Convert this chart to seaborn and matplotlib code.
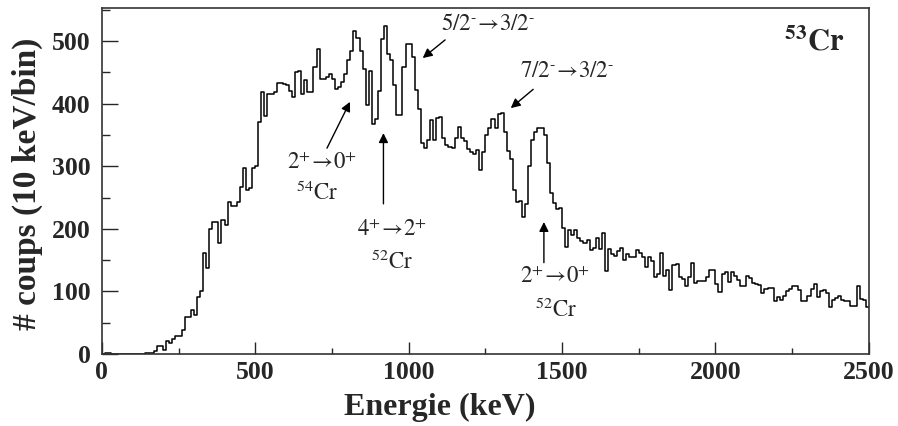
import numpy as np
import pandas as pd
import matplotlib
matplotlib.use("Agg")
import matplotlib.pyplot as plt
import seaborn as sns

# ---- data: counts per 10 keV bin ----
counts_0_490 = [0, 2, 2, 0, 0, 0, 0, 0, 0, 0, 0, 0, 0, 0,
                1, 2, 2, 5, 13, 13, 7, 20, 17, 24, 28, 28, 39, 59, 59, 71,
                62, 91, 101, 161, 137, 200, 211, 211, 177, 214, 206, 243, 236, 236,
                243, 267, 297, 262, 266, 298]
counts_500_990 = [300, 371, 419, 380, 415, 415, 419, 433, 433, 431,
                  430, 421, 411, 450, 452, 415, 438, 418, 419, 459,
                  487, 440, 440, 443, 448, 440, 424, 427, 435, 448,
                  470, 485, 516, 505, 485, 455, 398, 452, 368, 376,
                  421, 503, 525, 480, 470, 430, 382, 382, 459, 496]
counts_1000_1490 = [496, 475, 422, 392, 337, 330, 342, 374, 342, 377,
                    379, 345, 334, 331, 329, 345, 363, 345, 340, 328,
                    323, 320, 326, 294, 323, 350, 361, 376, 362, 384,
                    385, 355, 325, 311, 262, 243, 245, 219, 240, 300,
                    342, 355, 361, 361, 350, 306, 258, 241, 231, 233]
counts_1500_1990 = [201, 171, 198, 190, 198, 186, 180, 177, 182, 167,
                    170, 186, 168, 193, 133, 168, 160, 157, 165, 170,
                    151, 160, 155, 155, 167, 162, 155, 139, 155, 149,
                    123, 128, 162, 124, 134, 102, 142, 144, 123, 120,
                    109, 123, 145, 113, 116, 116, 116, 123, 135, 135]
counts_2000_2490 = [112, 99, 128, 131, 115, 131, 125, 118, 109, 109,
                    125, 122, 113, 112, 110, 97, 104, 105, 105, 84,
                    91, 86, 92, 100, 104, 109, 109, 103, 84, 84,
                    92, 104, 112, 91, 100, 102, 98, 75, 86, 90,
                    92, 86, 84, 84, 76, 77, 108, 88, 86, 75]

counts = counts_0_490 + counts_500_990 + counts_1000_1490 + counts_1500_1990 + counts_2000_2490
bin_width = 10
bin_edges = [float(e) for e in np.arange(0, 2500 + bin_width, bin_width)]
bin_centers = [e + bin_width / 2 for e in bin_edges[:-1]]
df = pd.DataFrame({"energy": bin_centers, "counts": counts})

x_ticks = [0, 500, 1000, 1500, 2000, 2500]
y_ticks = [0, 100, 200, 300, 400, 500]

# ---- figure ----
sns.set_style("ticks")
plt.rcParams["font.family"] = ["Liberation Serif", "DejaVu Serif"]
plt.rcParams["mathtext.fontset"] = "stix"

fig = plt.figure(figsize=(8.98, 4.26), dpi=100)
ax = fig.add_axes([101.8 / 898, 1 - 354 / 426, 767 / 898, 346 / 426])

sns.histplot(data=df, x="energy", weights="counts", bins=bin_edges,
             element="step", fill=False, color="black", linewidth=1.1, ax=ax)

ax.set_xlim(0, 2500)
ax.set_ylim(0, 553)
ax.set_xticks(x_ticks)
ax.set_yticks(y_ticks)
ax.set_xticks(np.arange(250, 2500, 500), minor=True)
ax.set_yticks(np.arange(50, 553, 100), minor=True)
ax.set_xticklabels([str(t) for t in x_ticks], fontsize=18.5, fontweight="bold")
ax.set_yticklabels([str(t) for t in y_ticks], fontsize=18.5, fontweight="bold")
ax.tick_params(axis="x", which="major", direction="in", length=8.5, width=1, pad=5, top=False)
ax.tick_params(axis="x", which="minor", direction="in", length=4.3, width=1, top=False)
ax.tick_params(axis="y", which="major", direction="in", length=11.5, width=1, pad=8, right=False)
ax.tick_params(axis="y", which="minor", direction="in", length=5.8, width=1, right=False)
for s in ax.spines.values():
    s.set_visible(True)
    s.set_linewidth(1.2)
    s.set_color("#333333")

ax.set_xlabel("Energie (keV)", fontsize=23, fontweight="bold", va="center")
ax.xaxis.set_label_coords((440 - 101.8) / 767, (354 - 407) / 346)
ax.set_ylabel("# coups (10 keV/bin)", fontsize=24, fontweight="bold", va="center")
ax.yaxis.set_label_coords((27 - 101.8) / 767, (354 - 184) / 346)

fs = 16.5
arrow = dict(arrowstyle="-|>", color="black", lw=1.0, mutation_scale=14, shrinkA=0, shrinkB=0)

# 54Cr 2+ -> 0+
ax.text(717, 305, r"$2^{+}\!\rightarrow\!0^{+}$", fontsize=fs, ha="center", va="center")
ax.text(701, 257, r"$^{54}\mathrm{Cr}$", fontsize=fs, ha="center", va="center")
ax.annotate("", xy=(809, 403), xytext=(734, 329), arrowprops=arrow)

# 52Cr 4+ -> 2+
ax.text(946, 198, r"$4^{+}\!\rightarrow\!2^{+}$", fontsize=fs, ha="center", va="center")
ax.text(946, 147, r"$^{52}\mathrm{Cr}$", fontsize=fs, ha="center", va="center")
ax.annotate("", xy=(918, 353), xytext=(918, 240), arrowprops=arrow)

# 5/2- -> 3/2-
ax.text(1259, 526, r"$5/2^{\text{-}}\!\rightarrow\!3/2^{\text{-}}$", fontsize=fs, ha="center", va="center")
ax.annotate("", xy=(1046, 473), xytext=(1119, 502), arrowprops=arrow)

# 7/2- -> 3/2-
ax.text(1516, 451, r"$7/2^{\text{-}}\!\rightarrow\!3/2^{\text{-}}$", fontsize=fs, ha="center", va="center")
ax.annotate("", xy=(1333, 393), xytext=(1406, 423), arrowprops=arrow)

# 52Cr 2+ -> 0+
ax.text(1477, 123, r"$2^{+}\!\rightarrow\!0^{+}$", fontsize=fs, ha="center", va="center")
ax.text(1480, 70, r"$^{52}\mathrm{Cr}$", fontsize=fs, ha="center", va="center")
ax.annotate("", xy=(1441, 211), xytext=(1441, 146), arrowprops=arrow)

# nucleus label
ax.text(2322, 497, r"$^{\mathbf{53}}\mathbf{Cr}$", fontsize=22, ha="center", va="center")

fig.savefig("out.png", dpi=100)
